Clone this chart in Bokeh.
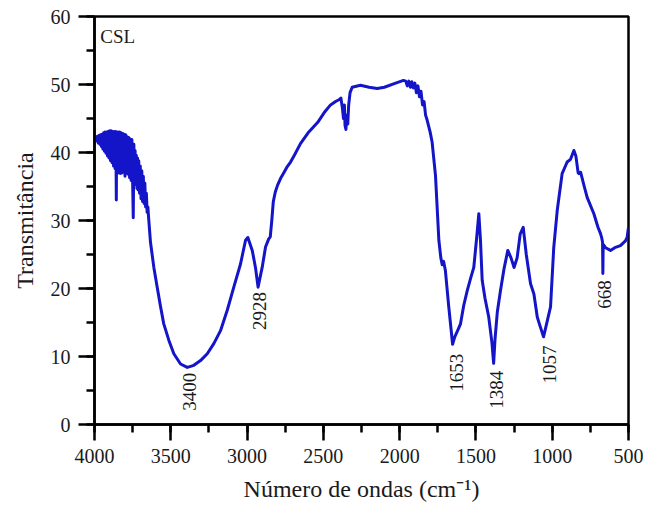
from bokeh.plotting import figure
from bokeh.models import Range1d, SingleIntervalTicker, ColumnDataSource
from bokeh.core.properties import value
from bokeh.embed import file_html
from bokeh.resources import INLINE

# ---- data ----
wavenumber = [
    4000, 3995, 3990, 3985, 3980, 3975, 3970, 3965, 3960, 3955, 3950, 3945, 3940, 3935,
    3930, 3925, 3920, 3915, 3910, 3905, 3900, 3895, 3890, 3885, 3880, 3875, 3870, 3865,
    3860, 3857, 3855, 3850, 3845, 3840, 3835, 3830, 3825, 3820, 3815, 3810, 3805, 3800,
    3795, 3790, 3785, 3780, 3775, 3770, 3765, 3760, 3755, 3750, 3746, 3742, 3738, 3734,
    3730, 3726, 3722, 3718, 3714, 3710, 3705, 3700, 3695, 3690, 3685, 3680, 3675, 3670,
    3665, 3660, 3655, 3650, 3645,
    3633, 3611, 3589, 3567, 3546, 3513, 3480, 3436, 3392, 3349, 3305, 3261, 3218, 3174,
    3130, 3087, 3043, 3010, 2995, 2966, 2945, 2928, 2901, 2879, 2858, 2848, 2838, 2828,
    2815, 2800, 2780, 2760, 2740, 2715, 2690, 2650, 2600, 2538, 2490, 2453, 2420,
    2395, 2385, 2375, 2368, 2362, 2358, 2352, 2346, 2340, 2334, 2325, 2311, 2257,
    2200, 2147, 2100, 2040, 1975, 1960, 1950, 1940, 1930, 1920, 1910, 1900, 1890, 1880,
    1870, 1860, 1850, 1840, 1830, 1819, 1800, 1787, 1765, 1743, 1730, 1721, 1712, 1700,
    1678, 1653, 1640, 1620, 1601, 1580, 1557, 1535, 1514, 1495, 1481, 1470, 1459, 1440,
    1416, 1395, 1384, 1375, 1360, 1339, 1315, 1291, 1270, 1250, 1230, 1210, 1190, 1170,
    1142, 1120, 1098, 1080, 1057, 1040, 1011, 990, 967, 935, 902, 880, 858, 845,
    830, 825, 814, 790, 771, 727, 700, 684, 675, 670, 668, 666, 650, 618,
    590, 553, 520, 509, 500,
]
transmittance = [
    42.0, 41.9, 42.3, 41.7, 42.4, 41.4, 42.5, 41.2, 42.6, 40.9, 42.7, 40.5, 42.9, 40.2,
    43.0, 39.9, 43.0, 39.5, 43.1, 39.2, 43.2, 38.8, 43.2, 38.5, 43.1, 38.0, 43.1, 37.6,
    43.1, 33.0, 43.0, 37.3, 43.0, 37.0, 43.0, 36.9, 42.9, 37.0, 42.8, 37.3, 42.7, 36.5,
    42.6, 37.6, 42.3, 36.8, 42.2, 36.3, 42.0, 35.9, 41.9, 35.7, 30.4, 41.2, 35.6, 40.3,
    35.3, 39.6, 34.7, 39.2, 34.5, 38.8, 34.0, 38.0, 33.2, 37.3, 32.8, 36.5, 32.5, 35.5,
    32.0, 34.0, 31.2, 32.0, 30.3,
    26.8, 23.1, 20.2, 17.3, 14.8, 12.4, 10.4, 8.9, 8.4, 8.7, 9.4, 10.4, 11.9, 13.8,
    16.8, 20.2, 23.6, 27.1, 27.5, 25.6, 23.1, 20.2, 23.1, 26.1, 27.3, 27.6, 30.0, 32.8,
    34.2, 35.2, 36.2, 37.0, 37.8, 38.6, 39.6, 41.3, 42.9, 44.4, 46.0, 47.0, 47.5,
    47.8, 48.0, 46.5, 45.0, 47.0, 44.0, 43.4, 45.5, 44.2, 47.0, 48.8, 49.6, 49.9,
    49.6, 49.4, 49.6, 50.1, 50.6, 50.5, 49.8, 50.5, 49.6, 50.4, 49.5, 50.2, 48.8, 49.8,
    48.2, 49.0, 47.0, 47.5, 45.5, 44.7, 43.0, 41.5, 36.6, 27.1, 24.5, 23.5, 24.0, 22.6,
    17.3, 11.8, 12.8, 13.8, 14.8, 17.5, 19.7, 21.5, 23.1, 27.5, 31.0, 27.0, 21.2, 18.5,
    15.8, 12.0, 9.0, 12.5, 16.5, 19.7, 23.0, 25.6, 24.5, 23.1, 24.5, 28.0, 29.0, 25.0,
    20.7, 19.2, 15.8, 14.5, 12.9, 14.5, 17.3, 26.0, 31.5, 36.9, 38.6, 39.0, 40.3, 39.5,
    37.0, 36.9, 37.1, 35.0, 33.4, 31.0, 29.0, 28.1, 27.4, 26.8, 22.2, 26.5, 26.0, 25.6,
    26.0, 26.3, 27.0, 27.5, 29.0,
]

peak_labels = ["3400", "2928", "1653", "1384", "1057", "668"]
peak_label_x = [3375, 2919, 1629, 1367, 1018, 657]
peak_label_y = [7.6, 19.5, 10.4, 7.9, 11.6, 21.2]

x_ticks_interval = 500
y_ticks_interval = 10

SERIF = "Liberation Serif"
BLUE = "#1414c8"

p = figure(
    width=646, height=508,
    x_range=Range1d(4000, 500), y_range=Range1d(0, 60),
    output_backend="svg", toolbar_location=None,
    min_border_left=94, min_border_right=18, min_border_top=16, min_border_bottom=84,
)
p.background_fill_color = "white"
p.border_fill_color = "white"
p.xgrid.visible = False
p.ygrid.visible = False
p.outline_line_color = "black"
p.outline_line_width = 2.5
p.outline_line_alpha = 1.0

src = ColumnDataSource(dict(x=wavenumber, y=transmittance))
p.line("x", "y", source=src, line_color=BLUE, line_width=3, line_join="round")

lab_src = ColumnDataSource(dict(x=peak_label_x, y=peak_label_y, t=peak_labels))
p.text("x", "y", text="t", source=lab_src, angle=1.5707963, text_align="right",
       text_baseline="middle", text_font=value(SERIF), text_font_size="19px",
       text_color="#1a1a1a")

p.text(x=[3962], y=[58.6], text=["CSL"], text_align="left", text_baseline="top",
       text_font=value(SERIF), text_font_size="19px", text_color="#1a1a1a")

for ax, interval in ((p.xaxis[0], x_ticks_interval), (p.yaxis[0], y_ticks_interval)):
    ax.ticker = SingleIntervalTicker(interval=interval, num_minor_ticks=2)
    ax.axis_line_width = 2.5
    ax.axis_line_color = "black"
    ax.major_tick_line_width = 2.5
    ax.minor_tick_line_width = 2.5
    ax.major_tick_line_color = "black"
    ax.minor_tick_line_color = "black"
    ax.major_tick_in = 0
    ax.minor_tick_in = 0
    ax.major_tick_out = 16
    ax.minor_tick_out = 8
    ax.major_label_text_font = SERIF
    ax.major_label_text_font_size = "20px"
    ax.major_label_text_color = "#1a1a1a"
    ax.major_label_standoff = 8
    ax.axis_label_text_font = SERIF
    ax.axis_label_text_font_size = "24px"
    ax.axis_label_text_font_style = "normal"
    ax.axis_label_text_color = "#1a1a1a"
    ax.axis_label_standoff = 10

p.xaxis[0].axis_label = "Número de ondas (cm⁻¹)"
p.yaxis[0].axis_label = "Transmitância"

html = file_html(p, INLINE)
open("out.html", "w").write(html)
